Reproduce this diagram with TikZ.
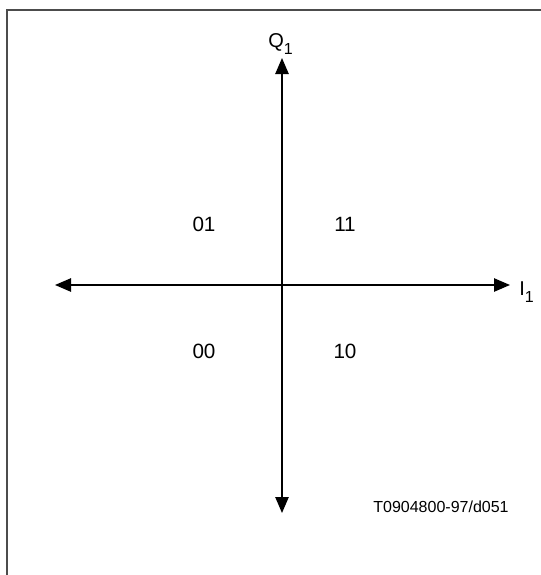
\documentclass[tikz,border=0pt]{standalone}
\usepackage{fontspec}
\setmainfont{Liberation Sans}
\usetikzlibrary{arrows.meta}

\newcommand{\lowidx}[1]{{\fontsize{12}{12}\selectfont\raisebox{-5.5pt}{#1}}}

\tikzset{
    axis/.style={line width=1.1pt, {Triangle[length=12pt, width=10pt]}-{Triangle[length=12pt, width=10pt]}},
    frameline/.style={line width=1.5pt, black!70},
    bits/.style={anchor=base, inner sep=0pt, font=\fontsize{15.5}{18}\selectfont},
    axlabel/.style={inner sep=0pt, font=\fontsize{15}{17}\selectfont},
}

\begin{document}
\begin{tikzpicture}[x=0.75pt, y=-0.75pt]
        \useasboundingbox (0,0) rectangle (540,575);
        % frame (top and left only)
        \draw[frameline] (545,10) -- (6.5,10) -- (6.5,580);
        % axis ends
        \coordinate (qtop) at (282,58);
        \coordinate (qbot) at (282,513);
        \coordinate (ileft) at (55,285);
        \coordinate (iright) at (510,285);
        \draw[axis] (qbot) -- (qtop);
        \draw[axis] (ileft) -- (iright);
        % axis labels
        \node[axlabel, anchor=base west] (qlab) at (268,47) {Q\lowidx{1}};
        \node[axlabel, anchor=base west] (ilab) at (519,295) {I\lowidx{1}};
        % quadrant bits
        \foreach \x/\y/\lbl in {204/231/01, 345/231/11, 204/358/00, 345/358/10} {
            \node[bits] (b\lbl) at (\x,\y) {\lbl};
        }
        \node[anchor=base, inner sep=0pt, font=\fontsize{12}{14}\selectfont] (ref) at (441,512) {T0904800-97/d051};
\end{tikzpicture}
\end{document}
